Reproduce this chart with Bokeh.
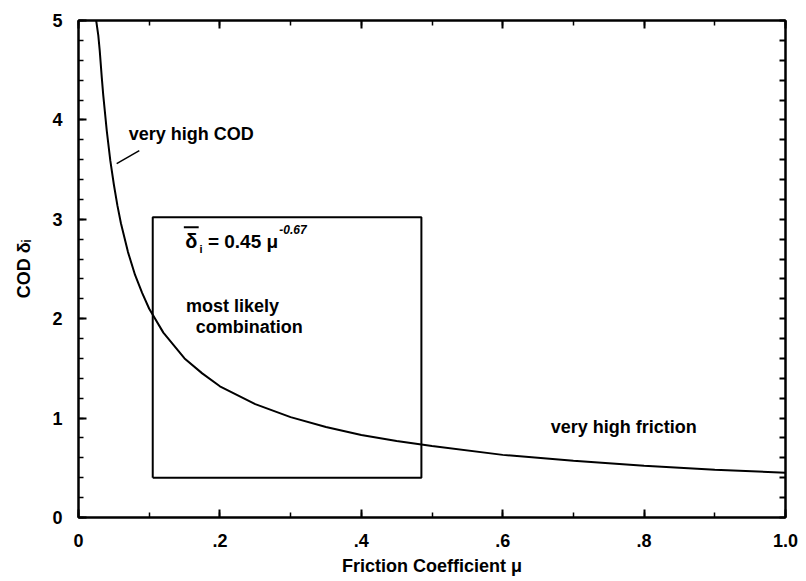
import numpy as np
from bokeh.plotting import figure
from bokeh.models import Label, FixedTicker, LinearAxis, CustomJSTickFormatter, Range1d
from bokeh.embed import file_html
from bokeh.resources import INLINE

# ---- data ----
mu = [0.025, 0.028, 0.030, 0.033, 0.035, 0.040, 0.045, 0.050, 0.055, 0.060, 0.070, 0.080, 0.090,
      0.100, 0.120, 0.150, 0.175, 0.200, 0.250, 0.300, 0.350, 0.400, 0.450, 0.500,
      0.600, 0.700, 0.800, 0.900, 1.000]
cod = [5.00, 4.85, 4.70, 4.42, 4.25, 3.89, 3.59, 3.35, 3.14, 2.96, 2.67, 2.44, 2.26,
       2.10, 1.86, 1.60, 1.45, 1.32, 1.14, 1.01, 0.91, 0.83, 0.77, 0.72,
       0.63, 0.57, 0.52, 0.48, 0.45]

box_mu = [0.105, 0.485]     # most likely combination, friction range
box_cod = [0.40, 3.02]      # most likely combination, COD range

x_ticks = [0, 0.2, 0.4, 0.6, 0.8, 1.0]
x_tick_labels = ["0", ".2", ".4", ".6", ".8", "1.0"]
y_ticks = [0, 1, 2, 3, 4, 5]
y_tick_labels = ["0", "1", "2", "3", "4", "5"]

x_label = "Friction Coefficient \u03bc"
y_label = "COD \u03b4\u1d62"
note_cod = "very high COD"
note_friction = "very high friction"
note_box = ["most likely", "combination"]
formula_sym = "\u03b4"
formula_sub = "i"
formula_rest = "= 0.45 \u03bc"
formula_exp = "-0.67"

FONT = "Liberation Sans"
FS = "18px"

p = figure(width=798, height=581, output_backend="svg", toolbar_location=None,
           x_range=Range1d(0, 1.0), y_range=Range1d(0, 5),
           min_border_left=78, min_border_right=13, min_border_top=20, min_border_bottom=64,
           x_axis_location=None, y_axis_location=None)
p.grid.visible = False
p.outline_line_color = "black"
p.outline_line_width = 2
p.background_fill_color = "white"
p.border_fill_color = "white"

def fmt(vals, labels):
    return CustomJSTickFormatter(args=dict(tvals=vals, tlabels=labels), code="""
        const i = tvals.findIndex(t => Math.abs(t - tick) < 1e-9);
        return i >= 0 ? tlabels[i] : '';
    """)

x_minor = [float(v) for v in np.round(np.arange(0, 1.0001, 0.1), 3)]
y_minor = [float(v) for v in np.round(np.arange(0, 5.0001, 0.2), 3)]

def style(ax, show_labels=True):
    ax.axis_line_color = "black"
    ax.axis_line_width = 2
    ax.major_tick_line_color = "black"
    ax.major_tick_line_width = 2
    ax.minor_tick_line_color = "black"
    ax.minor_tick_line_width = 1.5
    ax.major_tick_in = 8
    ax.major_tick_out = 0
    ax.minor_tick_in = 5
    ax.minor_tick_out = 0
    ax.major_label_text_font = FONT
    ax.major_label_text_font_style = "bold"
    ax.major_label_text_color = "black"
    ax.axis_label_text_color = "black"
    if show_labels:
        ax.major_label_text_font_size = FS
    else:
        ax.major_label_text_font_size = "0px"
        ax.major_label_standoff = 0

bx = LinearAxis(ticker=FixedTicker(ticks=x_ticks, minor_ticks=x_minor),
                formatter=fmt(x_ticks, x_tick_labels), axis_label=x_label)
style(bx)
bx.major_label_standoff = 16
bx.axis_label_standoff = 6
bx.axis_label_text_font = FONT
bx.axis_label_text_font_style = "bold"
bx.axis_label_text_font_size = FS
p.add_layout(bx, "below")

ly = LinearAxis(ticker=FixedTicker(ticks=y_ticks, minor_ticks=y_minor),
                formatter=fmt(y_ticks, y_tick_labels), axis_label=y_label)
style(ly)
ly.major_label_standoff = 16
ly.axis_label_standoff = 15
ly.axis_label_text_font = FONT
ly.axis_label_text_font_style = "bold"
ly.axis_label_text_font_size = FS
p.add_layout(ly, "left")

tx = LinearAxis(ticker=FixedTicker(ticks=x_ticks, minor_ticks=x_minor),
                formatter=fmt(x_ticks, [""] * len(x_ticks)))
style(tx, show_labels=False)
p.add_layout(tx, "above")

ry = LinearAxis(ticker=FixedTicker(ticks=y_minor, minor_ticks=[]),
                formatter=fmt(y_minor, [""] * len(y_minor)))
style(ry, show_labels=False)
ry.major_tick_in = 6
p.add_layout(ry, "right")

# curve
p.line(mu, cod, line_color="black", line_width=2)

# box
p.line([box_mu[0], box_mu[1], box_mu[1], box_mu[0], box_mu[0]],
       [box_cod[0], box_cod[0], box_cod[1], box_cod[1], box_cod[0]],
       line_color="black", line_width=2)

def lab(x, y, t, size=FS, baseline="middle", style_="bold"):
    p.add_layout(Label(x=x, y=y, text=t, text_font=FONT, text_font_style=style_,
                       text_font_size=size, text_color="black", text_baseline=baseline))

# annotations
lab(0.071, 3.86, note_cod)
p.line([0.054, 0.086], [3.56, 3.69], line_color="black", line_width=1.5)
lab(0.668, 0.91, note_friction)
lab(0.152, 2.13, note_box[0])
lab(0.166, 1.92, note_box[1])

# formula: mean delta_i = 0.45 mu^-0.67
lab(0.151, 2.78, formula_sym, size="20px")
p.line([0.149, 0.170], [2.92, 2.92], line_color="black", line_width=2)
lab(0.171, 2.70, formula_sub, size="11px")
lab(0.183, 2.78, formula_rest, size="19px")
lab(0.284, 2.90, formula_exp, size="12px", style_="bold italic")

open("out.html", "w").write(file_html(p, INLINE))
